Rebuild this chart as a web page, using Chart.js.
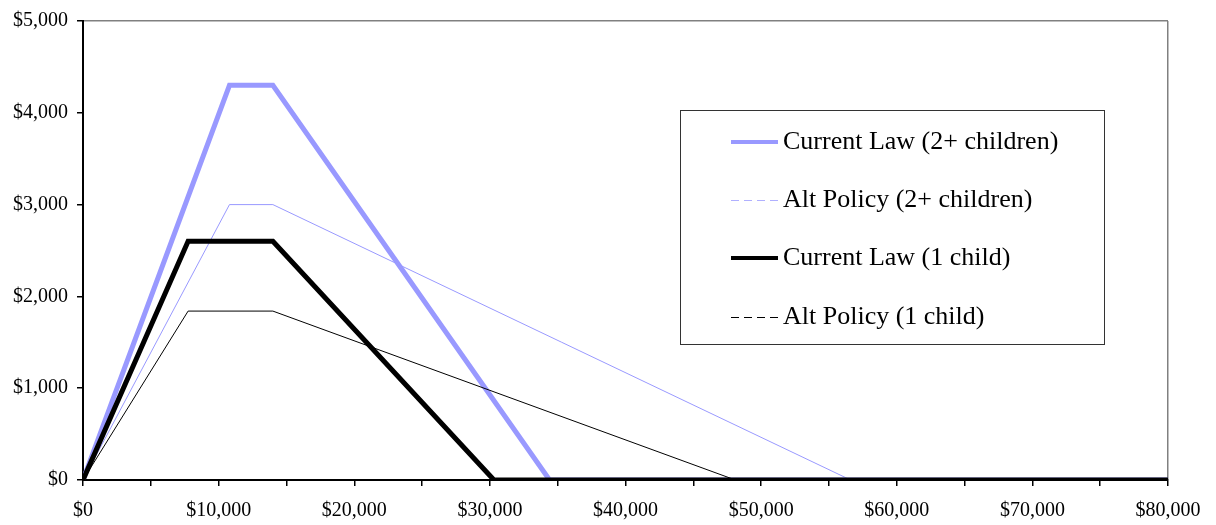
<!DOCTYPE html>
<html>
<head>
<meta charset="utf-8">
<script src="https://cdn.jsdelivr.net/npm/chart.js@4"></script>
<style>
html,body{margin:0;padding:0;background:#fff;}
#wrap{width:1216px;height:525px;position:relative;}
</style>
</head>
<body>
<div id="wrap"><canvas id="c" width="1216" height="525"></canvas></div>
<script>
// ---- data ----
const seriesLabels = ["Current Law (2+ children)", "Alt Policy (2+ children)", "Current Law (1 child)", "Alt Policy (1 child)"];
const curLaw2Income = [0, 10800, 14000, 34400, 80000];
const curLaw2Credit = [0, 4300, 4300, 0, 0];
const alt2Income = [0, 10800, 14000, 56600];
const alt2Credit = [0, 3000, 3000, 0];
const curLaw1Income = [0, 7750, 14000, 30300, 80000];
const curLaw1Credit = [0, 2600, 2600, 0, 0];
const alt1Income = [0, 7750, 14000, 48100];
const alt1Credit = [0, 1840, 1840, 0];
const xTickStep = 10000;
const yTickStep = 1000;

function pts(xs, ys){ return xs.map((x,i)=>({x:x, y:ys[i]})); }
const PURPLE = '#9999FF';
const FONT = '"Liberation Serif", "Times New Roman", serif';

const styles = [
  {color: PURPLE, width: 5, legendDash: []},
  {color: PURPLE, width: 1, legendDash: [8,5], legendColor: '#B0B0FF'},
  {color: '#000000', width: 5, legendDash: []},
  {color: '#000000', width: 1, legendDash: [8,5]}
];

const legendBox = {
  id: 'legendBox',
  afterDraw(chart){
    const ctx = chart.ctx;
    const L = 680.5, T = 110.5, W = 424, H = 234;
    ctx.save();
    ctx.fillStyle = '#fff';
    ctx.fillRect(L, T, W, H);
    ctx.strokeStyle = '#333';
    ctx.lineWidth = 1;
    ctx.strokeRect(L, T, W, H);
    const rows = [142, 200, 258, 317];
    chart.data.datasets.forEach((ds, i) => {
      const s = styles[i];
      const y = rows[i];
      ctx.beginPath();
      ctx.strokeStyle = s.legendColor || s.color;
      ctx.lineWidth = s.width === 5 ? 4 : 1;
      ctx.setLineDash(s.legendDash);
      ctx.moveTo(731, s.width === 5 ? y : y + 0.5);
      ctx.lineTo(778, s.width === 5 ? y : y + 0.5);
      ctx.stroke();
      ctx.setLineDash([]);
      ctx.fillStyle = '#000';
      ctx.font = '26px ' + FONT;
      ctx.textBaseline = 'middle';
      ctx.textAlign = 'left';
      ctx.fillText(ds.label, 783, y);
    });
    ctx.restore();
  }
};

const datasets = [
  {label: seriesLabels[0], data: pts(curLaw2Income, curLaw2Credit)},
  {label: seriesLabels[1], data: pts(alt2Income, alt2Credit)},
  {label: seriesLabels[2], data: pts(curLaw1Income, curLaw1Credit)},
  {label: seriesLabels[3], data: pts(alt1Income, alt1Credit)}
].map((d, i) => Object.assign(d, {
  borderColor: styles[i].color,
  backgroundColor: styles[i].color,
  borderWidth: styles[i].width,
  pointRadius: 0,
  fill: false,
  tension: 0,
  borderJoinStyle: 'miter',
  order: 4 - i
}));

function money(v){ return '$' + Number(v).toLocaleString('en-US'); }

new Chart(document.getElementById('c'), {
  type: 'line',
  data: {datasets},
  plugins: [legendBox],
  options: {
    responsive: false,
    animation: false,
    layout: {padding: {top: 19, right: 48, left: 0, bottom: 0}},
    plugins: {legend: {display: false}, tooltip: {enabled: false}},
    scales: {
      x: {
        type: 'linear', min: 0, max: 80000,
        afterFit(s){ s.height = 45; },
        afterBuildTicks(s){
          const t = [];
          for (let v = 0; v <= 80000; v += xTickStep/2) t.push({value: v});
          s.ticks = t;
        },
        ticks: {
          autoSkip: false, maxRotation: 0, padding: 13, color: '#000',
          font: {family: FONT, size: 20},
          callback: (v) => (v % xTickStep === 0 ? money(v) : '')
        },
        grid: {
          drawOnChartArea: true, drawTicks: true, tickLength: 6,
          color: (c) => (c.tick && c.tick.value === 80000 ? '#808080' : 'rgba(0,0,0,0)'),
          tickColor: '#000', lineWidth: 1.5
        },
        border: {color: '#000', width: 2}
      },
      y: {
        min: 0, max: 5000,
        afterFit(s){ s.width = 83; },
        ticks: {
          stepSize: yTickStep, padding: 9, color: '#000',
          font: {family: FONT, size: 20},
          callback: (v) => money(v)
        },
        grid: {
          drawOnChartArea: true, drawTicks: true, tickLength: 6,
          color: (c) => (c.tick && c.tick.value === 5000 ? '#808080' : 'rgba(0,0,0,0)'),
          tickColor: '#000', lineWidth: 1.5
        },
        border: {color: '#000', width: 2}
      }
    }
  }
});
</script>
</body>
</html>
